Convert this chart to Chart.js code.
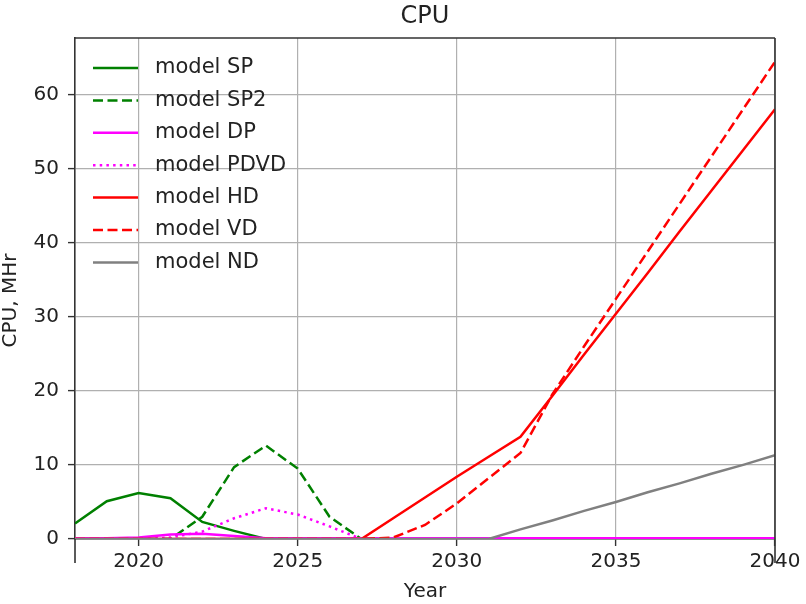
<!DOCTYPE html>
<html>
<head>
<meta charset="utf-8">
<script src="https://cdn.jsdelivr.net/npm/chart.js@4.4.1/dist/chart.umd.min.js"></script>
<style>
  html, body { margin: 0; padding: 0; background: #fff; }
  #wrap { width: 806px; height: 604px; }
</style>
</head>
<body>
<div id="wrap"><canvas id="chCpu" width="806" height="604"></canvas></div>
<script>
/* CPU por modelo, 2018-2040 */
(function () {
  'use strict';

  var YEARS = [2018, 2019, 2020, 2021, 2022, 2023, 2024, 2025, 2026, 2027, 2028, 2029,
               2030, 2031, 2032, 2033, 2034, 2035, 2036, 2037, 2038, 2039, 2040];

  var SP   = [2.1, 5.1, 6.2, 5.5, 2.3, 1.1, 0, 0, 0, 0, 0, 0, 0, 0, 0, 0, 0, 0, 0, 0, 0, 0, 0];
  var SP2  = [0, 0, 0, 0, 3.0, 9.7, 12.6, 9.5, 3.0, 0, 0, 0, 0, 0, 0, 0, 0, 0, 0, 0, 0, 0, 0];
  var DP   = [0.1, 0.1, 0.2, 0.6, 0.7, 0.4, 0.1, 0.1, 0.1, 0.1, 0.1, 0.1, 0.1, 0.1, 0.1, 0.1, 0.1, 0.1, 0.1, 0.1, 0.1, 0.1, 0.1];
  var PDVD = [0, 0, 0, 0.2, 1.0, 2.8, 4.15, 3.3, 1.7, 0, 0, 0, 0, 0, 0, 0, 0, 0, 0, 0, 0, 0, 0];
  var HD   = [0, 0, 0, 0, 0, 0, 0, 0, 0, 0, 2.8, 5.6, 8.4, 11.1, 13.8, 19.3, 24.9, 30.4, 35.9, 41.5, 47.0, 52.5, 58.0];
  var VD   = [0, 0, 0, 0, 0, 0, 0, 0, 0, 0, 0.2, 1.9, 4.8, 8.2, 11.6, 19.5, 26.0, 32.4, 38.8, 45.2, 51.6, 58.0, 64.4];
  var ND   = [0, 0, 0, 0, 0, 0, 0, 0, 0, 0, 0, 0, 0, 0, 1.3, 2.5, 3.8, 5.0, 6.3, 7.5, 8.8, 10.0, 11.3];

  var X_TICKS = [2020, 2025, 2030, 2035, 2040];
  var Y_TICKS = [0, 10, 20, 30, 40, 50, 60];

  var TEXTO = '#222';
  var EJE = '#333';
  var REJILLA = '#b0b0b0';
  var FUENTE = '"DejaVu Sans", sans-serif';

  Chart.defaults.font.family = FUENTE;
  Chart.defaults.color = TEXTO;

  function serie(label, vals, color, dash, orden) {
    return {
      label: label,
      data: YEARS.map(function (x, i) { return { x: x, y: vals[i] }; }),
      borderColor: color,
      backgroundColor: color,
      borderWidth: 2.5,
      borderDash: dash,
      pointRadius: 0,
      tension: 0,
      fill: false,
      order: orden
    };
  }

  var datasets = [
    serie('model SP', SP, '#008000', [], 6),
    serie('model SP2', SP2, '#008000', [10, 4.5], 5),
    serie('model DP', DP, '#ff00ff', [], 4),
    serie('model PDVD', PDVD, '#ff00ff', [2.5, 4.2], 3),
    serie('model HD', HD, '#ff0000', [], 2),
    serie('model VD', VD, '#ff0000', [10, 4.5], 1),
    serie('model ND', ND, '#808080', [], 0)
  ];

  // leyenda dentro del area, sin marco (como matplotlib)
  var leyenda = {
    id: 'leyenda',
    afterDraw: function (chart) {
      var a = chart.chartArea, ctx = chart.ctx;
      ctx.save();
      ctx.font = '21px ' + FUENTE;
      ctx.textBaseline = 'middle';
      chart.data.datasets.forEach(function (ds, i) {
        var y = a.top + 30 + i * 32.4;
        ctx.strokeStyle = ds.borderColor;
        ctx.lineWidth = ds.borderWidth;
        ctx.setLineDash(ds.borderDash);
        ctx.beginPath();
        ctx.moveTo(a.left + 18, y);
        ctx.lineTo(a.left + 63, y);
        ctx.stroke();
        ctx.setLineDash([]);
        ctx.fillStyle = TEXTO;
        ctx.fillText(ds.label, a.left + 80, y);
      });
      ctx.restore();
    }
  };

  // marco superior/derecho y prolongacion de los ejes bajo el cero; titulo del eje y
  var marco = {
    id: 'marco',
    afterDraw: function (chart) {
      var a = chart.chartArea, ctx = chart.ctx;
      var bajo = a.bottom + 24;
      ctx.save();
      ctx.strokeStyle = EJE;
      ctx.lineWidth = 1.6;
      ctx.beginPath();
      ctx.moveTo(a.left, a.top); ctx.lineTo(a.right, a.top);
      ctx.moveTo(a.right, a.top); ctx.lineTo(a.right, bajo);
      ctx.moveTo(a.left, a.bottom); ctx.lineTo(a.left, bajo);
      ctx.stroke();

      ctx.translate(11, (a.top + bajo) / 2);
      ctx.rotate(-Math.PI / 2);
      ctx.font = '20px ' + FUENTE;
      ctx.fillStyle = TEXTO;
      ctx.textAlign = 'center';
      ctx.textBaseline = 'middle';
      ctx.fillText('CPU, MHr', 0, 0);
      ctx.restore();
    }
  };

  new Chart(document.getElementById('chCpu'), {
    type: 'line',
    data: { datasets: datasets },
    options: {
      responsive: false,
      animation: false,
      layout: { padding: { left: 0, right: 31, top: 0, bottom: 0 } },
      plugins: {
        legend: { display: false },
        tooltip: { enabled: false },
        title: {
          display: true,
          fullSize: false,
          text: 'CPU',
          color: TEXTO,
          font: { size: 24, weight: 'normal' },
          padding: { top: 2, bottom: 7.2 }
        }
      },
      scales: {
        x: {
          type: 'linear',
          min: 2018,
          max: 2040,
          afterBuildTicks: function (s) { s.ticks = X_TICKS.map(function (v) { return { value: v }; }); },
          afterFit: function (s) { s.height = 65; },
          ticks: {
            padding: 4,
            color: TEXTO,
            font: { size: 20 },
            maxRotation: 0,
            callback: function (v) { return String(v); }
          },
          grid: { color: REJILLA, lineWidth: 1.2, tickColor: EJE, tickLength: 7, tickWidth: 1.4 },
          border: { color: EJE, width: 1.6 },
          title: { display: true, text: 'Year', color: TEXTO, font: { size: 20 }, padding: { top: 0, bottom: 0 } }
        },
        y: {
          min: 0,
          max: 67.6,
          afterBuildTicks: function (s) { s.ticks = Y_TICKS.map(function (v) { return { value: v }; }); },
          afterFit: function (s) { s.width = 75; },
          ticks: { padding: 9, color: TEXTO, font: { size: 20 } },
          grid: { color: REJILLA, lineWidth: 1.2, tickColor: EJE, tickLength: 7, tickWidth: 1.4 },
          border: { color: EJE, width: 1.6 }
        }
      }
    },
    plugins: [leyenda, marco]
  });
})();
</script>
</body>
</html>
